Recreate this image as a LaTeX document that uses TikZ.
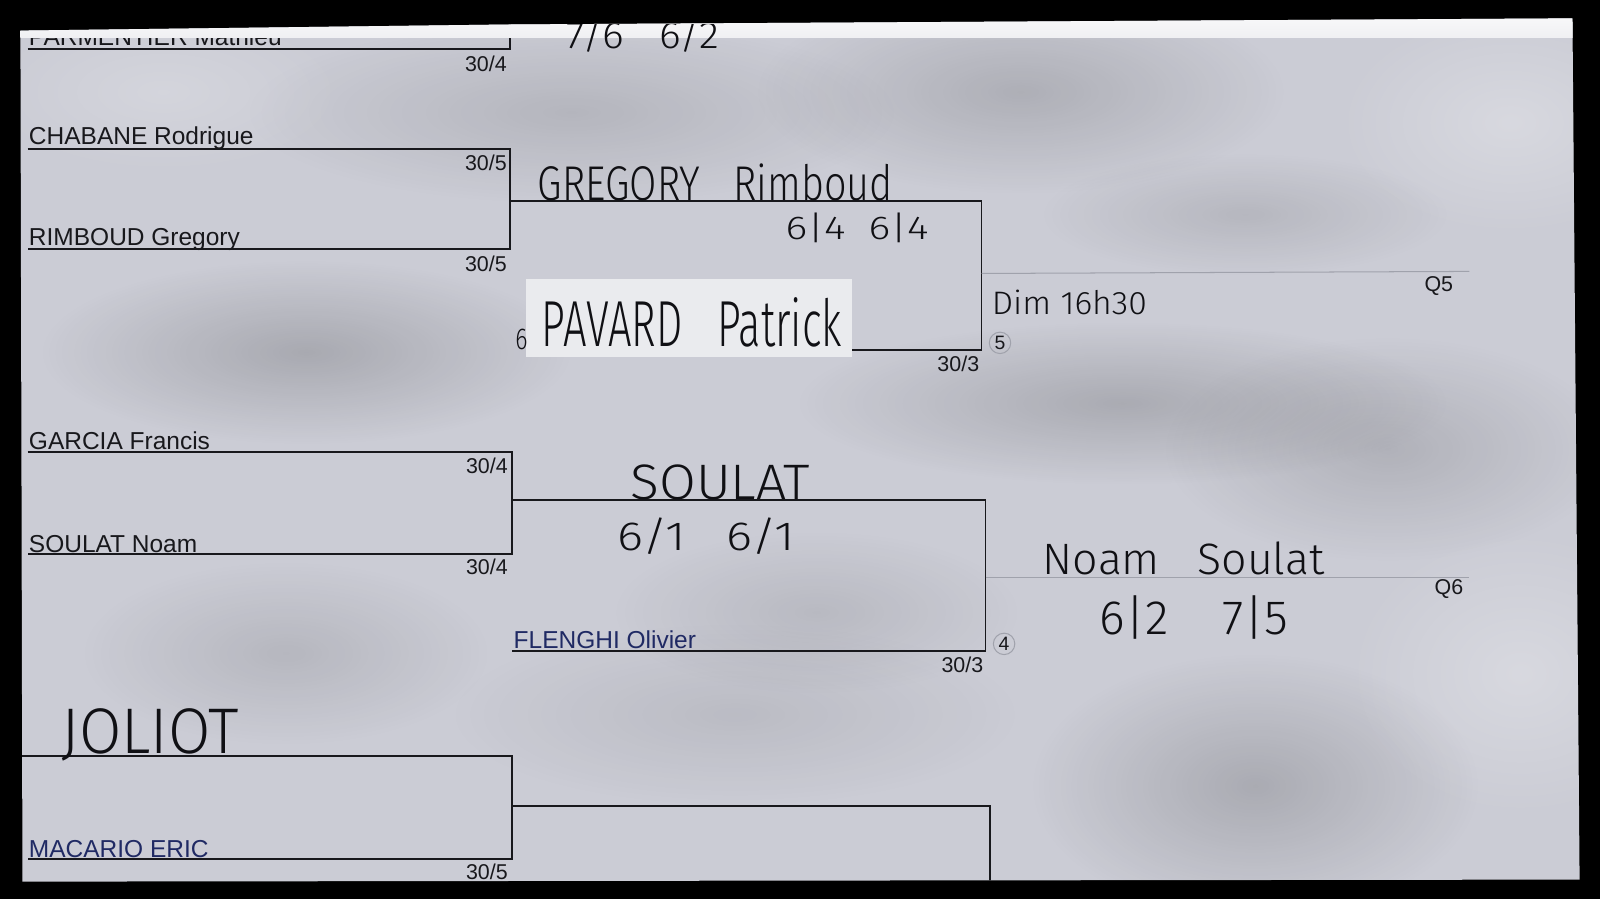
\documentclass[tikz,border=0pt]{standalone}
\usepackage{fontspec}
\setmainfont{Liberation Sans}
\IfFontExistsTF{Fira Sans Light}
  {\newfontfamily\handfont{Fira Sans Light}}
  {\IfFontExistsTF{DejaVu Sans ExtraLight}
     {\newfontfamily\handfont{DejaVu Sans ExtraLight}}
     {\newcommand\handfont{\sffamily}}}
\usepackage{graphicx}
\usetikzlibrary{fadings}
\definecolor{paper}{RGB}{203,204,213}
\definecolor{ink}{RGB}{24,24,28}
\definecolor{pen}{RGB}{16,16,20}
\definecolor{navy}{RGB}{32,42,100}
\definecolor{faint}{RGB}{160,162,172}
\tikzfading[name=blot, inner color=transparent!0, outer color=transparent!100]
\newcommand{\hw}[3]{\resizebox{#1pt}{#2pt}{\handfont #3}}
\tikzset{
  bline/.style={draw=ink, line width=0.75pt},
  fline/.style={draw=faint, line width=0.5pt},
  pname/.style={anchor=base west, inner sep=0pt, text=ink, font=\fontsize{12}{14}\selectfont},
  bname/.style={pname, text=navy},
  rating/.style={anchor=base east, inner sep=0pt, text=ink, font=\fontsize{10.5}{12}\selectfont},
  qlab/.style={inner sep=0pt, text=ink, font=\fontsize{10.5}{12}\selectfont},
  seed/.style={circle, draw=faint, line width=0.5pt, inner sep=0pt, minimum size=10.5pt, text=ink, font=\fontsize{9.5}{10}\selectfont},
  hand/.style={inner sep=0pt, text=pen},
  shadow/.style={fill=black, path fading=blot},
  glow/.style={fill=white, path fading=blot}
}
\begin{document}
\begin{tikzpicture}[x=0.5pt,y=-0.5pt]
\useasboundingbox (0,0) rectangle (1568,881);
\fill[black] (0,0) rectangle (1568,881);
\begin{scope}
\clip (20,30) -- (500,24) -- (1541,18) -- (1548,862) -- (22,864) -- cycle;
\fill[paper] (0,0) rectangle (1568,881);
% photo shading
\path[shadow, fill opacity=0.11] (560,110) ellipse (320 and 90);
\path[shadow, fill opacity=0.14] (1000,90) ellipse (260 and 100);
\path[shadow, fill opacity=0.10] (1220,210) ellipse (200 and 60);
\path[shadow, fill opacity=0.17] (300,345) ellipse (260 and 90);
\path[shadow, fill opacity=0.16] (1100,395) ellipse (320 and 80);
\path[shadow, fill opacity=0.13] (1360,440) ellipse (220 and 110);
\path[shadow, fill opacity=0.08] (720,700) ellipse (280 and 90);
\path[shadow, fill opacity=0.16] (1230,770) ellipse (220 and 130);
\path[shadow, fill opacity=0.10] (280,640) ellipse (200 and 90);
\path[shadow, fill opacity=0.09] (800,600) ellipse (200 and 80);
\path[glow, fill opacity=0.25] (1480,120) ellipse (170 and 110);
\path[glow, fill opacity=0.25] (1490,660) ellipse (170 and 140);
\path[glow, fill opacity=0.18] (160,90) ellipse (180 and 80);
% pasted light patch
\fill[white!60!paper] (515,273) rectangle (835,350);

% coordinates of the draw
\coordinate (p1a) at (27,48);  \coordinate (p1b) at (500,48); \coordinate (p0) at (500,0);
\coordinate (c1a) at (27,146); \coordinate (c1b) at (500,146);
\coordinate (r1a) at (27,244); \coordinate (r1b) at (500,244);
\coordinate (m1a) at (500,197); \coordinate (m1b) at (962,197);
\coordinate (m1c) at (962,343); \coordinate (m1d) at (835,343);
\coordinate (g1a) at (27,443); \coordinate (g1b) at (502,443);
\coordinate (s1a) at (27,543); \coordinate (s1b) at (502,543);
\coordinate (m2a) at (502,490); \coordinate (m2b) at (966,490);
\coordinate (m2c) at (966,638); \coordinate (m2d) at (502,638);
\coordinate (j1a) at (22,741); \coordinate (j1b) at (502,741);
\coordinate (k1a) at (27,842); \coordinate (k1b) at (502,842);
\coordinate (m3a) at (502,790); \coordinate (m3b) at (970,790);
\coordinate (m3c) at (970,890);
\coordinate (q5a) at (962,268); \coordinate (q5b) at (1440,266);
\coordinate (q6a) at (966,566); \coordinate (q6b) at (1440,566);

% bracket lines
\draw[bline] (p1a) -- (p1b) -- (p0);
\draw[bline] (c1a) -- (c1b) -- (r1b) -- (r1a);
\draw[bline] (m1a) -- (m1b) -- (m1c) -- (m1d);
\draw[bline] (g1a) -- (g1b) -- (s1b) -- (s1a);
\draw[bline] (m2a) -- (m2b) -- (m2c) -- (m2d);
\draw[bline] (j1a) -- (j1b) -- (k1b) -- (k1a);
\draw[bline] (m3a) -- (m3b) -- (m3c);
\draw[fline] (q5a) -- (q5b);
\draw[fline] (q6a) -- (q6b);

% printed names and ratings
\node[pname] (nPar) at (28,45) {PARMENTIER Mathieu};
\node[rating] (rPar) at (497,70) {30/4};
\node[pname] (nCha) at (28,142) {CHABANE Rodrigue};
\node[rating] (rCha) at (497,167) {30/5};
\node[pname] (nRim) at (28,241) {RIMBOUD Gregory};
\node[rating] (rRim) at (497,266) {30/5};
\node[rating] (rM1) at (960,364) {30/3};
\node[seed] (s5) at (980,336) {5};
\node[qlab] (q5) at (1410,280) {Q5};
\node[pname] (nGar) at (28,441) {GARCIA Francis};
\node[rating] (rGar) at (498,464) {30/4};
\node[pname] (nSou) at (28,541) {SOULAT Noam};
\node[rating] (rSou) at (498,563) {30/4};
\node[bname] (nFle) at (503,636) {FLENGHI Olivier};
\node[rating] (rFle) at (964,659) {30/3};
\node[seed] (s4) at (984,631) {4};
\node[qlab] (q6) at (1420,577) {Q6};
\node[bname] (nMac) at (28,840) {MACARIO ERIC};
\node[rating] (rMac) at (498,862) {30/5};

% bright curled top edge of the sheet
\shade[top color=white, bottom color=white!70!paper] (0,0) rectangle (1568,37);

% handwriting
\node[hand] (h76) at (630,34) {\hw{75}{15}{7/6\ \ \ 6/2}};
\node[hand] (hGR) at (701,179) {\hw{174}{18}{GREGORY\ \ \ Rimboud}};
\node[hand] (h64) at (840,223) {\hw{70}{13}{6|4\ \ 6|4}};
\node[hand] (hSix) at (511,333) {\hw{6}{10}{6}};
\node[hand] (hPav) at (678,316) {\hw{147}{24}{PAVARD\ \ \ Patrick}};
\node[hand] (hDim) at (1048,296) {\hw{76}{12}{Dim 16h30}};
\node[hand] (hSoul) at (706,473) {\hw{88}{17}{SOULAT}};
\node[hand] (h61) at (692,525) {\hw{87}{16}{6/1\ \ \ 6/1}};
\node[hand] (hNoam) at (1160,547) {\hw{138}{16}{Noam\ \ \ Soulat}};
\node[hand] (h62) at (1170,605) {\hw{92}{19}{6|2\ \ \ \ 7|5}};
\node[hand] (hJol) at (147,720) {\hw{87}{22}{JOLIOT}};
\end{scope}
\end{tikzpicture}
\end{document}
